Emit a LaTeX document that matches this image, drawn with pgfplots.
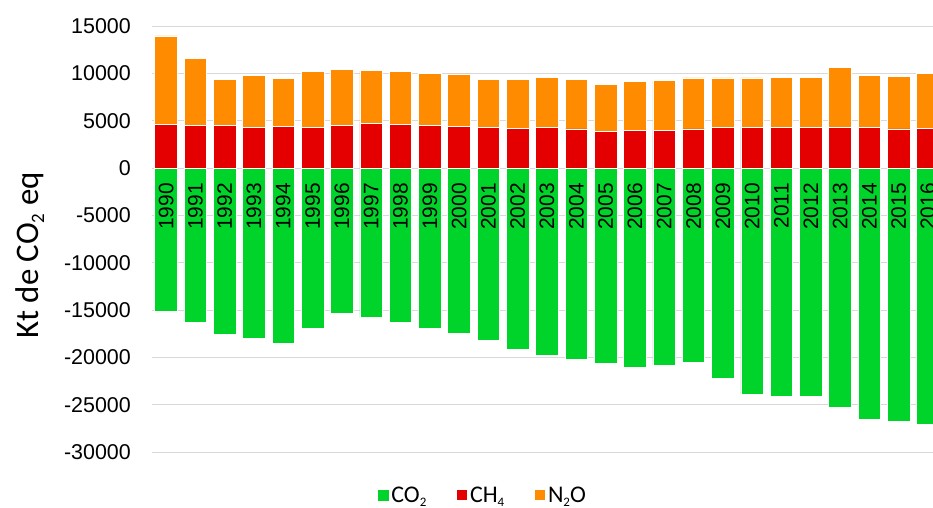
\documentclass[border=0pt]{standalone}
\usepackage{pgfplots}
\pgfplotsset{compat=1.18}
\usepackage{pgfplotstable}
\usepackage{fontspec}
\setmainfont{Liberation Sans}
\newfontfamily\calibri{Carlito}
\usetikzlibrary{calc}
\definecolor{cgreen}{RGB}{0,212,42}
\definecolor{cred}{RGB}{228,0,0}
\definecolor{corange}{RGB}{255,140,0}
\definecolor{cgrid}{RGB}{217,217,217}

\pgfplotstableread{
year co2 ch4 n2o
1990 -15180 4610 9340
1991 -16340 4510 7090
1992 -17570 4510 4820
1993 -18030 4300 5500
1994 -18490 4370 5130
1995 -16900 4300 5900
1996 -15320 4510 5890
1997 -15810 4750 5530
1998 -16270 4610 5560
1999 -16900 4510 5490
2000 -17430 4370 5560
2001 -18240 4300 5030
2002 -19190 4190 5140
2003 -19790 4300 5280
2004 -20210 4120 5210
2005 -20670 3870 4970
2006 -21090 3940 5180
2007 -20880 3940 5280
2008 -20560 4120 5390
2009 -22180 4300 5210
2010 -23910 4300 5210
2011 -24080 4300 5280
2012 -24080 4300 5280
2013 -25250 4300 6300
2014 -26510 4300 5520
2015 -26800 4120 5560
2016 -27070 4190 5770
}\datatable

\pgfplotsset{
  common/.style={
    scale only axis, width=781bp, height=426bp,
    bar width=0.77,
    xmin=1989.52, xmax=2016.17,
    ymin=-30000, ymax=15000,
    xtick=\empty,
    axis line style={draw=none},
    major tick style={draw=none},
  }
}

\begin{document}
\begin{tikzpicture}
% background axis: grid, ticks, CO2
\begin{axis}[
  common,
  ybar,
  ytick={-30000,-25000,-20000,-15000,-10000,-5000,0,5000,10000,15000},
  ymajorgrids, grid style={cgrid, line width=0.9bp},
  yticklabel style={font=\fontsize{21.5}{24}\selectfont, inner sep=0pt, anchor=east, xshift=-21bp},
  /pgf/number format/assume math mode=true,
  /pgf/number format/set thousands separator={},
  scaled y ticks=false,
  ylabel={Kt de CO\raisebox{-0.35ex}{\fontsize{19}{19}\selectfont 2} eq},
  ylabel style={at={(axis description cs:-0.1562,0.462)}, anchor=center, font=\calibri\fontsize{33}{36}\selectfont},
]
\addplot[fill=cgreen, draw=white, line width=0.75bp, bar shift=0pt] table[x=year, y=co2] {\datatable};
\end{axis}
% overlay axis: CH4 + N2O stacked, legend, year labels
\begin{axis}[
  common,
  ybar stacked,
  ytick=\empty,
  legend style={at={(axis description cs:0.424,-0.076)}, anchor=north, draw=none, inner sep=0pt,
    font=\calibri\fontsize{24}{26}\selectfont,
    /tikz/every even column/.append style={column sep=28bp}},
  legend columns=3,
  legend image code/.code={\fill[#1] (0bp,-5.5bp) rectangle (11bp,5.5bp);},
]
\addlegendimage{fill=cgreen, draw=none}
\addlegendentry{CO\raisebox{-0.4ex}{\fontsize{13}{13}\selectfont 2}}
\addplot[fill=cred, draw=white, line width=0.75bp] table[x=year, y=ch4] {\datatable};
\addlegendentry{CH\raisebox{-0.4ex}{\fontsize{13}{13}\selectfont 4}}
\addplot[fill=corange, draw=white, line width=0.75bp] table[x=year, y=n2o] {\datatable};
\addlegendentry{N\raisebox{-0.4ex}{\fontsize{13}{13}\selectfont 2}O}
\pgfplotsinvokeforeach{1990,...,2016}{
  \node[rotate=90, anchor=east, inner sep=0pt, font=\fontsize{21}{24}\selectfont] at (axis cs:#1,-1600) {#1};
}
\end{axis}
\pgfresetboundingbox
\path[use as bounding box] ($(current axis.south west)+(-152bp,-56bp)$) rectangle ($(current axis.north east)+(0bp,26bp)$);
\end{tikzpicture}
\end{document}
